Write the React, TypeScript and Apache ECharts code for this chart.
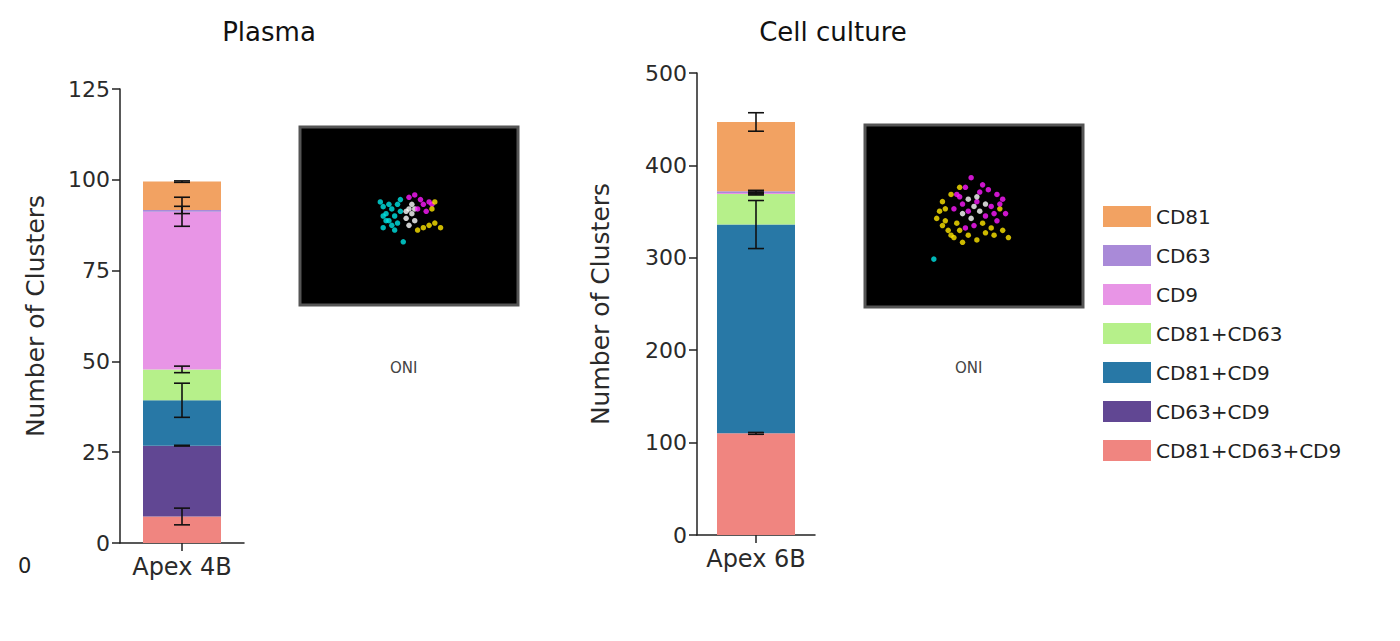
import React, { useEffect, useRef } from "react";
import * as echarts from "echarts";

const seriesNames = ["CD81+CD63+CD9", "CD63+CD9", "CD81+CD9", "CD81+CD63", "CD9", "CD63", "CD81"];
const legendOrder = ["CD81", "CD63", "CD9", "CD81+CD63", "CD81+CD9", "CD63+CD9", "CD81+CD63+CD9"];
const colors = ["#f08580", "#614793", "#2878a6", "#b6f08a", "#e895e6", "#a98ad8", "#f2a262"];
const plasmaValues = [7.3, 19.5, 12.5, 8.5, 43.4, 0.5, 7.8];
const plasmaErrors = [2.3, 0.1, 4.7, 0.9, 4.0, 1.0, 0.2];
const cultureValues = [110, 0, 226, 33, 1, 2, 75];
const cultureErrors = [1, 0, 26, 1, 1, 1, 10];
const plasmaCategory = ["Apex 4B"];
const cultureCategory = ["Apex 6B"];
const plasmaTicks = [0, 25, 50, 75, 100, 125];
const cultureTicks = [0, 100, 200, 300, 400, 500];

// microscopy dot clusters [x, y, colour index]  (0 cyan, 1 magenta, 2 yellow, 3 white)
const dotColors = ["#00e5e5", "#ff1aff", "#ffe600", "#ffffff"];
const plasmaDots = [
  [-9, 4, 0], [-8, 1, 0], [-7, -2, 0], [-6, 3, 0], [-5, 0, 0], [-6, -4, 0], [-4, 5, 0], [-4, -3, 0], [-3, 2, 0],
  [-10, 6, 0], [-9, -5, 0], [-2, -11, 0], [-8, -2, 0], [-7, 5, 0], [-9, 0, 0], [-5, -6, 0], [-3, 7, 0],
  [0, 3, 3], [1, 1, 3], [-1, -1, 3], [2, -2, 3], [0, -4, 3], [1, 5, 3], [-1, 2, 3], [2, 3, 3],
  [0, 8, 1], [2, 9, 1], [4, 7, 1], [5, 5, 1], [7, 6, 1], [3, 3, 1], [6, 2, 1], [8, 5, 1],
  [7, -4, 2], [9, -3, 2], [5, -5, 2], [11, -5, 2], [3, -6, 2], [8, 3, 2], [9, 6, 2],
];
const cultureDots = [
  [-11, 6, 2], [-12, 2, 2], [-10, -2, 2], [-9, -6, 2], [-7, -9, 2], [-4, -11, 2], [-2, -8, 2], [1, -10, 2], [4, -7, 2],
  [7, -8, 2], [10, -6, 2], [12, -9, 2], [-8, 9, 2], [-5, 12, 2], [9, 3, 2], [-13, -1, 2], [-6, -3, 2], [3, -3, 2],
  [-10, 3, 2], [-8, -8, 2], [-5, -6, 2], [6, -5, 2], [-11, -4, 2],
  [-6, 9, 1], [-3, 12, 1], [-1, 16, 1], [2, 10, 1], [5, 11, 1], [8, 9, 1], [10, 7, 1], [-4, 5, 1], [6, 4, 1],
  [1, 6, 1], [-2, 2, 1], [8, -2, 1], [4, 0, 1], [-7, 3, 1], [11, 1, 1], [0, -4, 1], [-3, -5, 1],
  [3, 13, 1], [7, 1, 1], [-5, 8, 1], [9, 5, 1],
  [-2, 7, 3], [0, 4, 3], [2, 2, 3], [-4, 1, 3], [1, 8, 3], [4, 5, 3], [-1, -1, 3],
  [-14, -18, 0],
];

const FONT = "DejaVu Sans";

function cumulative(vals: number[]) {
  let s = 0;
  return vals.map((v) => (s += v));
}

export default function App() {
  const ref = useRef<HTMLDivElement>(null);
  useEffect(() => {
    const chart = echarts.init(ref.current!, null, { renderer: "svg" });
    const pc = cumulative(plasmaValues);
    const cc = cumulative(cultureValues);
    const errSeries = (xi: number, cat: string, cum: number[], err: number[]) => ({
      type: "custom",
      xAxisIndex: xi,
      yAxisIndex: xi,
      silent: true,
      z: 10,
      data: cum.map((c, i) => [cat, c - err[i], c + err[i], err[i]]).filter((d) => (d[3] as number) > 0),
      renderItem: (params: any, api: any) => {
        const lo = api.coord([api.value(0), api.value(1)]);
        const hi = api.coord([api.value(0), api.value(2)]);
        const w = 8;
        const st = { stroke: "#111", lineWidth: 1.6 };
        return {
          type: "group",
          children: [
            { type: "line", shape: { x1: lo[0], y1: lo[1], x2: hi[0], y2: hi[1] }, style: st },
            { type: "line", shape: { x1: lo[0] - w, y1: lo[1], x2: lo[0] + w, y2: lo[1] }, style: st },
            { type: "line", shape: { x1: hi[0] - w, y1: hi[1], x2: hi[0] + w, y2: hi[1] }, style: st },
          ],
        };
      },
    });
    const axisText = { color: "#2a2a2a", fontSize: 22, fontFamily: FONT };
    const yAx = (gi: number, ticks: number[]) => ({
      type: "value",
      gridIndex: gi,
      min: ticks[0],
      max: ticks[ticks.length - 1],
      interval: ticks[1] - ticks[0],
      name: "Number of Clusters",
      nameLocation: "middle",
      nameGap: gi === 0 ? 72 : 84,
      nameTextStyle: { color: "#2a2a2a", fontSize: 25, fontFamily: FONT },
      axisLine: { show: true, lineStyle: { color: "#222", width: 1.5 } },
      axisTick: { show: true, length: 8, lineStyle: { color: "#222", width: 1.5 } },
      axisLabel: { ...axisText, margin: 10 },
      splitLine: { show: false },
    });
    const xAx = (gi: number, cat: string[]) => ({
      type: "category",
      gridIndex: gi,
      data: cat,
      axisLine: { lineStyle: { color: "#222", width: 1.5 } },
      axisTick: { show: true, alignWithLabel: true, length: 8, lineStyle: { color: "#222", width: 1.5 } },
      axisLabel: { ...axisText, fontSize: 24, margin: 12 },
    });
    const hidden = (gi: number) => ({
      type: "value", gridIndex: gi, min: -38, max: 38, show: false,
    });
    const barSeries = (xi: number, vals: number[]) =>
      seriesNames.map((n, i) => ({
        type: "bar",
        name: n,
        stack: "s" + xi,
        xAxisIndex: xi,
        yAxisIndex: xi,
        barWidth: 78,
        itemStyle: { color: colors[i] },
        data: [vals[i]],
      }));
    const dotSeries = (gi: number, dots: number[][]) => ({
      type: "scatter",
      xAxisIndex: gi,
      yAxisIndex: gi,
      symbolSize: 5.5,
      silent: true,
      data: dots.map((d) => ({ value: [d[0], d[1]], itemStyle: { color: dotColors[d[2]] } })),
    });
    chart.setOption({
      animation: false,
      backgroundColor: "#fff",
      title: [
        { text: "Plasma", left: 256, top: 6, textAlign: "center", textStyle: { fontSize: 26, fontWeight: "normal", color: "#111", fontFamily: FONT } },
        { text: "Cell culture", left: 820, top: 6, textAlign: "center", textStyle: { fontSize: 26, fontWeight: "normal", color: "#111", fontFamily: FONT } },
      ],
      legend: {
        data: legendOrder,
        orient: "vertical",
        left: 1090,
        top: 193,
        itemWidth: 48,
        itemHeight: 21,
        itemGap: 18,
        icon: "rect",
        textStyle: { fontSize: 20, color: "#222", fontFamily: FONT },
      },
      grid: [
        { left: 112, top: 81, width: 124, height: 454 },
        { left: 689, top: 65, width: 118, height: 462 },
        { left: 292, top: 119, width: 218, height: 178, show: true, backgroundColor: "#000", borderColor: "#555", borderWidth: 3 },
        { left: 857, top: 117, width: 218, height: 182, show: true, backgroundColor: "#000", borderColor: "#555", borderWidth: 3 },
      ],
      xAxis: [xAx(0, plasmaCategory), xAx(1, cultureCategory), hidden(2), hidden(3)],
      yAxis: [yAx(0, plasmaTicks), yAx(1, cultureTicks), hidden(2), hidden(3)],
      series: [
        ...barSeries(0, plasmaValues),
        ...barSeries(1, cultureValues),
        errSeries(0, plasmaCategory[0], pc, plasmaErrors),
        errSeries(1, cultureCategory[0], cc, cultureErrors),
        dotSeries(2, plasmaDots),
        dotSeries(3, cultureDots),
      ],
      graphic: [
        { type: "text", left: 382, top: 352, style: { text: "ONI", fontSize: 15, fill: "#444", fontFamily: FONT } },
        { type: "text", left: 947, top: 352, style: { text: "ONI", fontSize: 15, fill: "#444", fontFamily: FONT } },
        { type: "text", left: 10, top: 547, style: { text: "0", fontSize: 21, fill: "#222", fontFamily: FONT } },
      ],
    });
    return () => chart.dispose();
  }, []);
  return <div ref={ref} style={{ width: 1384, height: 625 }} />;
}
